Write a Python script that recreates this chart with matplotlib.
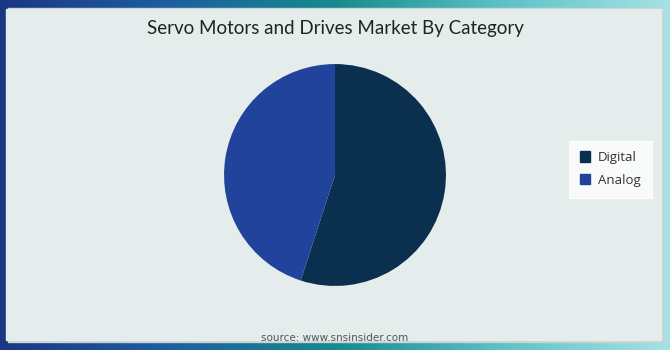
import numpy as np
import matplotlib.pyplot as plt
from matplotlib.colors import LinearSegmentedColormap
from matplotlib.patches import Rectangle

categories = ["Digital", "Analog"]
shares = [55, 45]
colors = ["#0b2f4f", "#22439b"]
title = "Servo Motors and Drives Market By Category"
source = "source: www.snsinsider.com"

fig = plt.figure(figsize=(6.7, 3.5), dpi=100)

# gradient frame
bg = fig.add_axes([0, 0, 1, 1])
cmap = LinearSegmentedColormap.from_list(
    "frame", ["#1a3784", "#1d5fa0", "#168a8e", "#5cc2c6", "#a6e2e4"])
bg.imshow(np.linspace(0, 1, 256)[None, :], aspect="auto", cmap=cmap,
          extent=[0, 1, 0, 1])
bg.add_patch(Rectangle((0.012, 0.022), 0.978, 0.955, color="#c9d3d3",
                       transform=bg.transAxes))
bg.add_patch(Rectangle((0.009, 0.03), 0.978, 0.945, color="#e4ecec",
                       transform=bg.transAxes))
bg.set_xlim(0, 1)
bg.set_ylim(0, 1)
bg.axis("off")

fig.text(0.5, 0.918, title, ha="center", va="center", fontsize=13.5,
         family="Lato", color="#222222")
fig.text(0.5, 0.035, source, ha="center", va="center", fontsize=7.5,
         family="DejaVu Sans", color="#555555")

ax = fig.add_axes([0.3343, 0.183, 0.3314, 0.634])
ax.pie(shares, colors=colors, startangle=90, counterclock=False,
       radius=1.0)
ax.set_aspect("equal")
ax.set_xlim(-1, 1)
ax.set_ylim(-1, 1)

handles = [Rectangle((0, 0), 1, 1, color=c) for c in colors]
leg = fig.legend(handles, categories, loc="center", bbox_to_anchor=(0.911, 0.517),
                 frameon=True, fancybox=False, handlelength=0.8,
                 handleheight=0.8, handletextpad=0.6, labelspacing=0.75,
                 borderpad=0.8, borderaxespad=0,
                 prop={"family": "Open Sans", "size": 9.5})
leg.get_frame().set_edgecolor("white")
leg.get_frame().set_facecolor("white")
for t in leg.get_texts():
    t.set_color("#333333")

fig.savefig("out.png", dpi=100)
